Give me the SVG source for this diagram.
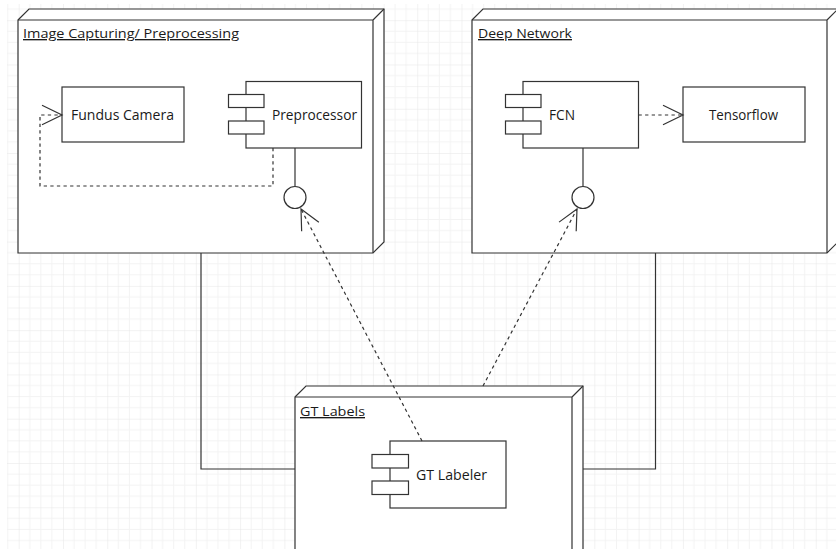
<svg xmlns="http://www.w3.org/2000/svg" width="836" height="549" viewBox="0 0 836 549">
  <defs>
    <pattern id="grid" patternUnits="userSpaceOnUse" x="18.7" y="20.2" width="44.28" height="44.28">
      <path d="M11.07,0 V44.28 M22.14,0 V44.28 M33.21,0 V44.28 M0,11.07 H44.28 M0,22.14 H44.28 M0,33.21 H44.28" fill="none" stroke="#f3f3f3" stroke-width="1"/>
      <path d="M0,0 V44.28 M0,0 H44.28" fill="none" stroke="#e6e6e6" stroke-width="1"/>
    </pattern>
    <marker id="open" markerUnits="userSpaceOnUse" markerWidth="24" markerHeight="24" refX="20" refY="10" orient="auto" overflow="visible">
      <path d="M0,0.3 L20,10 L0,19.7" fill="none" stroke="#333" stroke-width="1.2" stroke-dasharray="none"/>
    </marker>
  </defs>
  <style>
    .ln { fill: none; stroke: #333; stroke-width: 1.2; }
    .box { fill: #fff; stroke: #333; stroke-width: 1.2; }
    .dash { fill: none; stroke: #333; stroke-width: 1.2; stroke-dasharray: 3.3 3.3; }
    .lbl { font-family: "Open Sans", "Noto Sans", "DejaVu Sans", sans-serif; font-size: 14px; fill: #1a1a1a; }
    .ttl { font-family: "Open Sans", "Noto Sans", "DejaVu Sans", sans-serif; font-size: 13.5px; fill: #1a1a1a; text-decoration: underline; }
  </style>

  <rect x="0" y="0" width="836" height="549" fill="#fff"/>
  <rect x="7" y="4" width="829" height="545" fill="url(#grid)"/>

  <g id="node-image-capturing">
    <path class="box" d="M18,20 L29,9 H384 V242 L373,253 H18 Z"/>
    <path class="ln" d="M18,20 H373 V253 M373,20 L384,9"/>
    <text class="ttl" x="23" y="38" textLength="216" lengthAdjust="spacingAndGlyphs">Image Capturing/ Preprocessing</text>
  </g>

  <g id="node-deep-network">
    <path class="box" d="M472,20 L483,9 H838 V242 L827,253 H472 Z"/>
    <path class="ln" d="M472,20 H827 V253 M827,20 L838,9"/>
    <text class="ttl" x="478" y="38" textLength="94" lengthAdjust="spacingAndGlyphs">Deep Network</text>
  </g>

  <g id="node-gt-labels">
    <path class="box" d="M295,397 L306,386 H583 V619 L572,630 H295 Z"/>
    <path class="ln" d="M295,397 H572 V630 M572,397 L583,386"/>
    <text class="ttl" x="300" y="416" textLength="65" lengthAdjust="spacingAndGlyphs">GT Labels</text>
  </g>

  <g id="node-fundus-camera">
    <rect class="box" x="62" y="87" width="122" height="55"/>
    <text class="lbl" x="71" y="120" textLength="103" lengthAdjust="spacingAndGlyphs">Fundus Camera</text>
  </g>

  <g id="node-preprocessor">
    <rect class="box" x="246" y="81.5" width="115.5" height="66.5"/>
    <rect class="box" x="228.5" y="94.5" width="35.5" height="13"/>
    <rect class="box" x="228.5" y="121" width="35.5" height="13"/>
    <text class="lbl" x="272" y="120" textLength="85" lengthAdjust="spacingAndGlyphs">Preprocessor</text>
  </g>

  <g id="node-preprocessor-interface">
    <path class="ln" d="M295,148 V186.5"/>
    <circle class="box" cx="295" cy="197.5" r="11"/>
  </g>

  <g id="node-fcn">
    <rect class="box" x="523" y="81.5" width="115.5" height="66.5"/>
    <rect class="box" x="505.5" y="94.5" width="35.5" height="13"/>
    <rect class="box" x="505.5" y="121" width="35.5" height="13"/>
    <text class="lbl" x="549" y="120" textLength="26" lengthAdjust="spacingAndGlyphs">FCN</text>
  </g>

  <g id="node-fcn-interface">
    <path class="ln" d="M583,148 V186.5"/>
    <circle class="box" cx="583" cy="197.5" r="11"/>
  </g>

  <g id="node-tensorflow">
    <rect class="box" x="683" y="87" width="122" height="55"/>
    <text class="lbl" x="709" y="120" textLength="69" lengthAdjust="spacingAndGlyphs">Tensorflow</text>
  </g>

  <g id="node-gt-labeler">
    <rect class="box" x="390" y="441" width="116" height="67"/>
    <rect class="box" x="372" y="454.5" width="36.5" height="13.5"/>
    <rect class="box" x="372" y="481" width="36.5" height="13.5"/>
    <text class="lbl" x="416" y="480" textLength="71" lengthAdjust="spacingAndGlyphs">GT Labeler</text>
  </g>

  <g id="connectors">
    <path class="ln" d="M201,253 V469 H295"/>
    <path class="ln" d="M655.5,253 V469 H583"/>
    <path class="dash" d="M273,148 V186 H40 V115 H62" marker-end="url(#open)"/>
    <path class="dash" d="M638.5,115 H683" marker-end="url(#open)"/>
    <path class="dash" d="M422,441 L301,209" marker-end="url(#open)"/>
    <path class="dash" d="M483,386 L577,209" marker-end="url(#open)"/>
  </g>
</svg>
